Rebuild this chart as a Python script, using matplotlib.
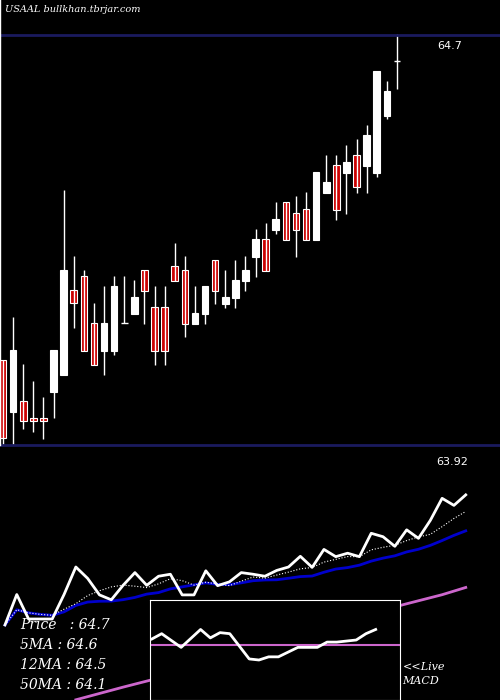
import numpy as np
import pandas as pd
import matplotlib
matplotlib.use('Agg')
import matplotlib.pyplot as plt

# OHLC read from the candles
opens = [64.082, 63.983, 64.004, 63.971, 63.971, 64.021, 64.053, 64.215, 64.242, 64.152,
         64.099, 64.099, 64.152, 64.169, 64.253, 64.183, 64.183, 64.261, 64.253, 64.150,
         64.169, 64.272, 64.188, 64.200, 64.232, 64.278, 64.312, 64.329, 64.382, 64.361,
         64.369, 64.310, 64.399, 64.453, 64.437, 64.472, 64.451, 64.437, 64.546, 64.651]
highs = [64.082, 64.164, 64.074, 64.042, 64.011, 64.101, 64.405, 64.280, 64.253, 64.190,
         64.222, 64.242, 64.242, 64.234, 64.253, 64.222, 64.222, 64.304, 64.280, 64.222,
         64.222, 64.272, 64.253, 64.272, 64.280, 64.331, 64.342, 64.382, 64.382, 64.394,
         64.401, 64.439, 64.472, 64.472, 64.491, 64.502, 64.529, 64.632, 64.612, 64.702]
lows = [63.920, 63.920, 63.950, 63.945, 63.931, 63.970, 64.053, 64.143, 64.099, 64.072,
        64.053, 64.091, 64.152, 64.169, 64.150, 64.072, 64.072, 64.232, 64.125, 64.150,
        64.150, 64.188, 64.181, 64.181, 64.213, 64.240, 64.251, 64.321, 64.310, 64.278,
        64.310, 64.310, 64.399, 64.348, 64.359, 64.399, 64.399, 64.430, 64.540, 64.597]
closes = [63.933, 64.101, 63.966, 63.966, 63.966, 64.101, 64.253, 64.190, 64.099, 64.072,
          64.152, 64.222, 64.152, 64.202, 64.213, 64.099, 64.099, 64.232, 64.150, 64.171,
          64.222, 64.213, 64.202, 64.234, 64.253, 64.312, 64.251, 64.350, 64.310, 64.329,
          64.310, 64.439, 64.420, 64.367, 64.458, 64.411, 64.510, 64.632, 64.593, 64.651]

# 50 day average, read at a few points
ma50_idx = [6, 10, 13, 20, 27, 34, 37, 39]
ma50_val = [63.52, 63.59, 63.64, 63.78, 63.93, 64.05, 64.10, 64.14]

# MACD inset readings
macd_x = [0, 1, 3, 5, 6, 7, 8, 10, 11, 12, 13, 15, 17, 18, 19, 21, 22, 23]
macd_y = [0.6, 1.1, -0.2, 1.5, 0.7, 1.2, 1.1, -1.3, -1.4, -1.1, -1.1, -0.2, -0.2, 0.3, 0.3, 0.5, 1.1, 1.5]

labels = ['Price   : 64.7', '5MA : 64.6', '12MA : 64.5', '50MA : 64.1']

fig = plt.figure(figsize=(5, 7), dpi=100, facecolor='black')

# top candle panel
ax1 = fig.add_axes([0, 250/700, 1, 450/700])
ax1.set_facecolor('black')
ax1.set_xlim(-0.3, 49.2)
ax1.set_ylim(63.910, 64.767)
ax1.axis('off')
for i in range(len(opens)):
    o, h, l, c = opens[i], highs[i], lows[i], closes[i]
    ax1.vlines(i, l, h, color='white', linewidth=1)
    if c > o:
        ax1.bar(i, c - o, bottom=o, width=0.65, color='white', edgecolor='white', linewidth=0.8)
    elif c < o:
        ax1.bar(i, o - c, bottom=c, width=0.65, color='#cc0000', edgecolor='white', linewidth=0.8)
    else:
        ax1.hlines(o, i - 0.33, i + 0.33, color='white', linewidth=1)
ax1.axhline(64.7, color='#1a1a5e', linewidth=2)
ax1.axhline(63.92, color='#1a1a5e', linewidth=2)
ax1.axvline(-0.3, ymin=13/450*0 + 5/450, ymax=1, color='white', linewidth=1)
ax1.text(1.0, 64.715, '64.7', color='white', fontsize=8, transform=ax1.get_yaxis_transform(),
         ha='left')
fig.text(0.875, 1 - 46/700, '64.7', color='white', fontsize=8, va='center')
ax1.texts[0].remove()
fig.text(0.872, 1 - 462/700, '63.92', color='white', fontsize=8, va='center')
fig.text(0.01, 1 - 10/700, 'USAAL bullkhan.tbrjar.com', color='white', fontsize=7, va='center',
         family='DejaVu Serif', style='italic')

# bottom lines panel
ax2 = fig.add_axes([0, 0, 1, 245/700])
ax2.set_facecolor('black')
ax2.set_xlim(-0.42, 41.9)
ax2.set_ylim(63.519, 64.871)
ax2.axis('off')
s = pd.Series(closes)
x = np.arange(len(closes))
ax2.plot(ma50_idx, ma50_val, color='#cc66cc', linewidth=2)
ax2.plot(x, s.rolling(12, min_periods=1).mean(), color='#0000cc', linewidth=2)
ax2.plot(x, s.rolling(5, min_periods=1).mean(), color='white', linewidth=0.8, linestyle=':')
ax2.plot(x, closes, color='white', linewidth=2)

for k, t in enumerate(labels):
    fig.text(0.04, 1 - (625 + k * 20) / 700, t, color='white', fontsize=10,
             family='DejaVu Serif', style='italic', va='center')
fig.text(0.805, 1 - 667/700, '<<Live', color='white', fontsize=8, family='DejaVu Serif',
         style='italic', va='center')
fig.text(0.805, 1 - 681/700, 'MACD', color='white', fontsize=8, family='DejaVu Serif',
         style='italic', va='center')

# MACD inset
ax3 = fig.add_axes([150/500, 0, 250/500, 100/700])
ax3.set_facecolor('black')
ax3.set_xlim(-0.2, 25.5)
ax3.set_ylim(-5.2, 4.3)
ax3.set_xticks([])
ax3.set_yticks([])
for sp in ax3.spines.values():
    sp.set_color('white')
ax3.axhline(0, color='#cc66cc', linewidth=1.5)
ax3.plot(macd_x, macd_y, color='white', linewidth=2)

fig.savefig('out.png', facecolor='black')
